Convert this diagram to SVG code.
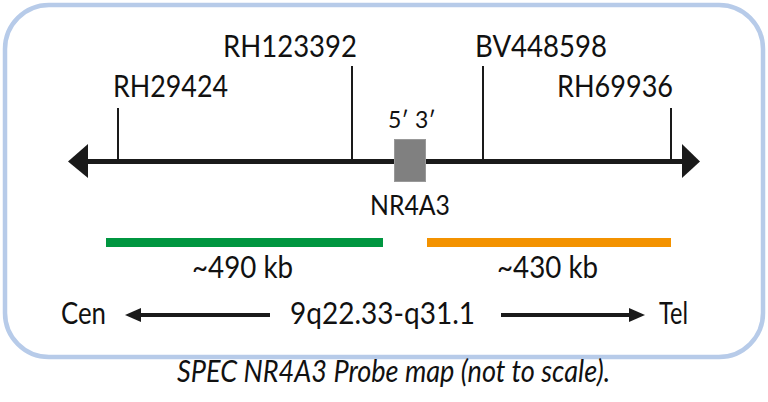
<svg xmlns="http://www.w3.org/2000/svg" width="768" height="402" viewBox="0 0 768 402">
<style>
text{font-family:Lato,"Liberation Sans",Arial,sans-serif;font-weight:400;fill:#111}
.lbl{font-size:30px}
.tick{stroke:#1a1a1a;stroke-width:2}
</style>
<defs>
<marker id="ah" viewBox="0 0 16 16" refX="2" refY="8" markerWidth="16" markerHeight="16" markerUnits="userSpaceOnUse" orient="auto">
<path d="M0,1 L16,8 L0,15 Z" fill="#1a1a1a"/>
</marker>
</defs>
<rect x="5" y="5" width="758" height="352" rx="44" ry="44" fill="#fff" stroke="#b7cbe9" stroke-width="4.5"/>
<g id="connectors">
<line x1="86" y1="161.5" x2="684" y2="161.5" stroke="#1a1a1a" stroke-width="5"/>
<path d="M68,161.5 L88,144 L88,178 Z" fill="#1a1a1a"/>
<path d="M700,161.5 L682,144 L682,178 Z" fill="#1a1a1a"/>
<line class="tick" x1="118" y1="108" x2="118" y2="161"/>
<line class="tick" x1="352" y1="66" x2="352" y2="161"/>
<line class="tick" x1="483" y1="66" x2="483" y2="161"/>
<line class="tick" x1="671" y1="108" x2="671" y2="161"/>
<line x1="270" y1="315" x2="139" y2="315" stroke="#1a1a1a" stroke-width="4" marker-end="url(#ah)"/>
<line x1="501" y1="315" x2="631" y2="315" stroke="#1a1a1a" stroke-width="4" marker-end="url(#ah)"/>
</g>
<g id="marker-RH29424"><text class="lbl" x="113" y="97" textLength="115" lengthAdjust="spacingAndGlyphs">RH29424</text></g>
<g id="marker-RH123392"><text class="lbl" x="223" y="57" textLength="134" lengthAdjust="spacingAndGlyphs">RH123392</text></g>
<g id="marker-BV448598"><text class="lbl" x="475" y="57" textLength="132" lengthAdjust="spacingAndGlyphs">BV448598</text></g>
<g id="marker-RH69936"><text class="lbl" x="557" y="97" textLength="116" lengthAdjust="spacingAndGlyphs">RH69936</text></g>
<g id="gene-NR4A3">
<rect x="394.5" y="139.5" width="31" height="42" fill="#808080" stroke="#999" stroke-width="1"/>
<text x="388" y="128" font-size="23">5′</text>
<text x="415" y="128" font-size="23">3′</text>
<text x="370" y="215" font-size="27" textLength="80" lengthAdjust="spacingAndGlyphs">NR4A3</text>
</g>
<g id="probe-green">
<rect x="106" y="238" width="277" height="9" fill="#009640"/>
<text class="lbl" x="192" y="278" textLength="101" lengthAdjust="spacingAndGlyphs">~490 kb</text>
</g>
<g id="probe-orange">
<rect x="427" y="238" width="244" height="9" fill="#f39200"/>
<text class="lbl" x="497" y="278" textLength="101" lengthAdjust="spacingAndGlyphs">~430 kb</text>
</g>
<g id="orientation">
<text class="lbl" x="61" y="324" textLength="45" lengthAdjust="spacingAndGlyphs">Cen</text>
<text class="lbl" x="290" y="324" textLength="185" lengthAdjust="spacingAndGlyphs">9q22.33-q31.1</text>
<text class="lbl" x="659" y="324" textLength="29" lengthAdjust="spacingAndGlyphs">Tel</text>
</g>
<text class="lbl" x="177" y="382" font-style="italic" textLength="433" lengthAdjust="spacingAndGlyphs">SPEC NR4A3 Probe map (not to scale).</text>
</svg>
